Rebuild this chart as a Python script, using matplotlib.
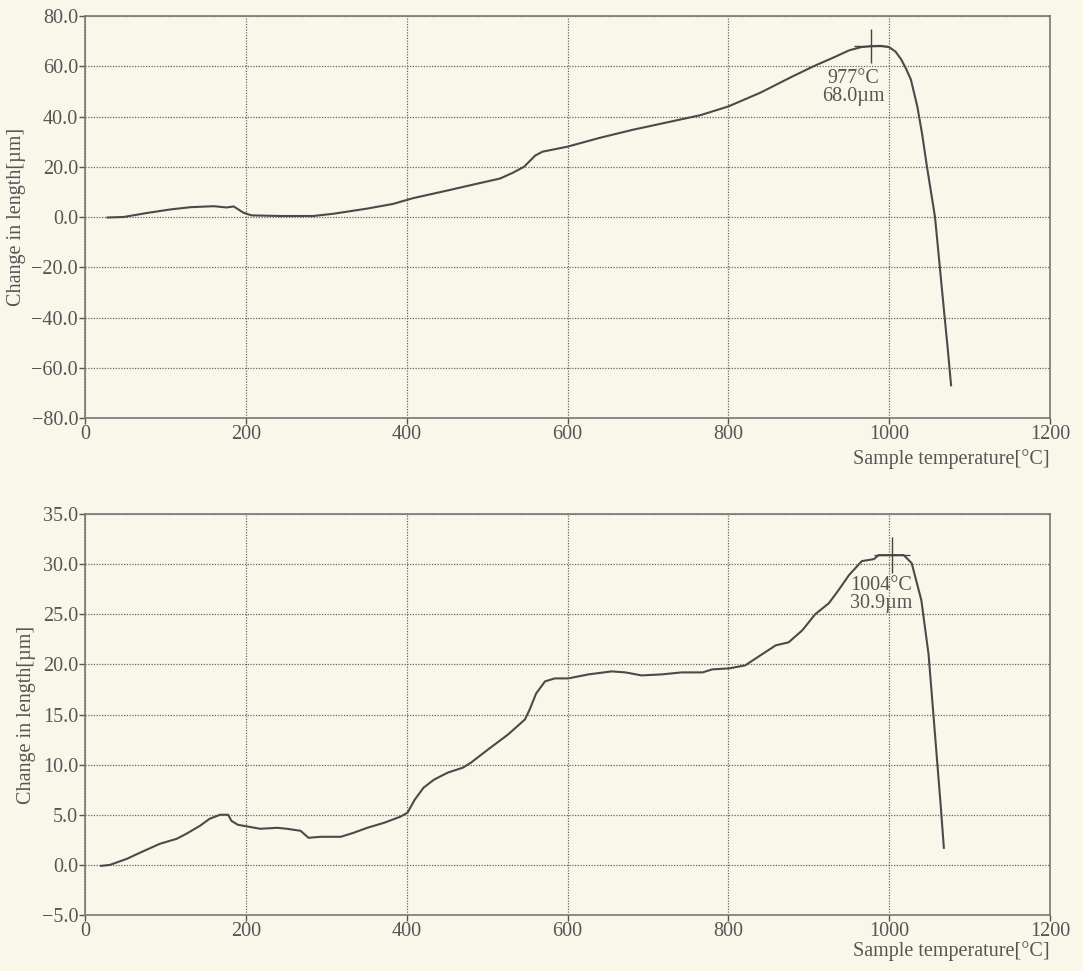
import matplotlib
matplotlib.use("Agg")
import matplotlib.pyplot as plt
from matplotlib.ticker import FixedLocator, FixedFormatter

# ---------------- data ----------------
temp_top = [28, 48, 77, 106, 131, 160, 176, 185, 197, 207, 243, 284, 309, 350,
            383, 408, 450, 491, 516, 532, 546, 560, 569, 600, 640, 681, 723,
            765, 800, 840, 877, 906, 931, 950, 965, 977, 990, 1000, 1008, 1015,
            1021, 1027, 1035, 1041, 1047, 1052, 1057, 1063, 1069, 1073, 1077]
dl_top = [-0.2, 0.0, 1.6, 3.0, 3.9, 4.3, 3.8, 4.2, 1.7, 0.65, 0.4, 0.4, 1.3, 3.3,
          5.2, 7.5, 10.5, 13.5, 15.3, 17.6, 20.0, 24.5, 26.0, 28.0, 31.5, 34.7, 37.6,
          40.5, 44.0, 49.5, 55.5, 60.0, 63.5, 66.3, 67.6, 68.0, 68.1, 67.6, 65.8, 62.7,
          59.0, 54.7, 44.0, 33.0, 20.0, 10.0, 0.0, -20.0, -40.0, -53.0, -67.0]

temp_bot = [20, 31, 52, 68, 93, 114, 126, 143, 155, 168, 178, 182, 190, 197, 218,
            239, 251, 268, 278, 293, 318, 334, 351, 372, 392, 401, 410, 421, 434,
            451, 470, 480, 501, 526, 547, 553, 561, 572, 584, 601, 626, 655, 672,
            692, 717, 742, 768, 780, 801, 821, 838, 859, 875, 892, 908, 925, 937,
            950, 966, 981, 987, 1018, 1028, 1040, 1049, 1055, 1060, 1064, 1068]
dl_bot = [-0.1, 0.0, 0.6, 1.2, 2.1, 2.6, 3.1, 3.9, 4.6, 5.0, 5.0, 4.4, 4.0, 3.9, 3.6,
          3.7, 3.6, 3.4, 2.7, 2.8, 2.8, 3.2, 3.7, 4.2, 4.8, 5.2, 6.5, 7.7, 8.5,
          9.2, 9.7, 10.2, 11.5, 13.0, 14.5, 15.5, 17.1, 18.3, 18.6, 18.6, 19.0, 19.3, 19.2,
          18.9, 19.0, 19.2, 19.2, 19.5, 19.6, 19.9, 20.8, 21.9, 22.2, 23.4, 25.0, 26.1, 27.4,
          28.9, 30.3, 30.5, 30.9, 30.9, 30.1, 26.4, 21.0, 15.0, 10.0, 6.0, 1.7]

xticks = [0, 200, 400, 600, 800, 1000, 1200]
xtick_labels = ["0", "200", "400", "600", "800", "1000", "1200"]
yticks_top = [-80, -60, -40, -20, 0, 20, 40, 60, 80]
ytick_labels_top = ["\u221280.0", "\u221260.0", "\u221240.0", "\u221220.0", "0.0",
                    "20.0", "40.0", "60.0", "80.0"]
yticks_bot = [-5, 0, 5, 10, 15, 20, 25, 30, 35]
ytick_labels_bot = ["\u22125.0", "0.0", "5.0", "10.0", "15.0", "20.0", "25.0",
                    "30.0", "35.0"]

peak_top = (977, 68.0)
peak_top_label = "977\u00b0C\n68.0\u00b5m"
peak_bot = (1003, 30.9)
peak_bot_label = "1004\u00b0C\n30.9\u00b5m"

xlabel = "Sample temperature[\u00b0C]"
ylabel = "Change in length[\u00b5m]"

# ---------------- style ----------------
bg = "#f9f7ea"
ink = "#555555"
plt.rcParams["font.family"] = ["Liberation Serif", "DejaVu Serif"]
plt.rcParams["font.size"] = 14.5

fig = plt.figure(figsize=(10.83, 9.71), dpi=100, facecolor=bg)
W, H = 1083, 971
ax1 = fig.add_axes([85 / W, 1 - 418 / H, 965 / W, 402 / H])
ax2 = fig.add_axes([85 / W, 1 - 915 / H, 965 / W, 401 / H])


def style(ax, yt, ytl, ylim, xlabelpad):
    ax.set_facecolor(bg)
    ax.set_xlim(0, 1200)
    ax.set_ylim(*ylim)
    ax.xaxis.set_major_locator(FixedLocator(xticks))
    ax.xaxis.set_major_formatter(FixedFormatter(xtick_labels))
    ax.yaxis.set_major_locator(FixedLocator(yt))
    ax.yaxis.set_major_formatter(FixedFormatter(ytl))
    ax.tick_params(direction="out", length=4, width=1, colors=ink,
                   labelcolor=ink, pad=1)
    for s in ax.spines.values():
        s.set_color("#777777")
        s.set_linewidth(1.2)
    ax.grid(True, color="#666666", linestyle=(0, (1, 1.2)), linewidth=0.9)
    ax.set_axisbelow(True)
    ax.set_xlabel(xlabel, loc="right", color=ink, labelpad=xlabelpad)
    ax.set_ylabel(ylabel, color=ink, labelpad=4)


style(ax1, yticks_top, ytick_labels_top, (-80, 80), 4)
style(ax2, yticks_bot, ytick_labels_bot, (-5, 35), 0)

ax1.plot(temp_top, dl_top, color="#4a4a4a", linewidth=1.5)
ax2.plot(temp_bot, dl_bot, color="#4a4a4a", linewidth=1.5)

ax1.plot([peak_top[0]], [peak_top[1]], marker="+", markersize=24,
         markeredgewidth=1.0, color="#444444")
ax2.plot([peak_bot[0]], [peak_bot[1]], marker="+", markersize=26,
         markeredgewidth=1.0, color="#444444")

ax1.text(956, 51.6, peak_top_label, ha="center", va="center", color=ink,
         linespacing=0.95, fontsize=14.5)
ax2.text(990, 27.0, peak_bot_label, ha="center", va="center", color=ink,
         linespacing=0.95, fontsize=14.5)

fig.savefig("out.png", dpi=100, facecolor=bg)
